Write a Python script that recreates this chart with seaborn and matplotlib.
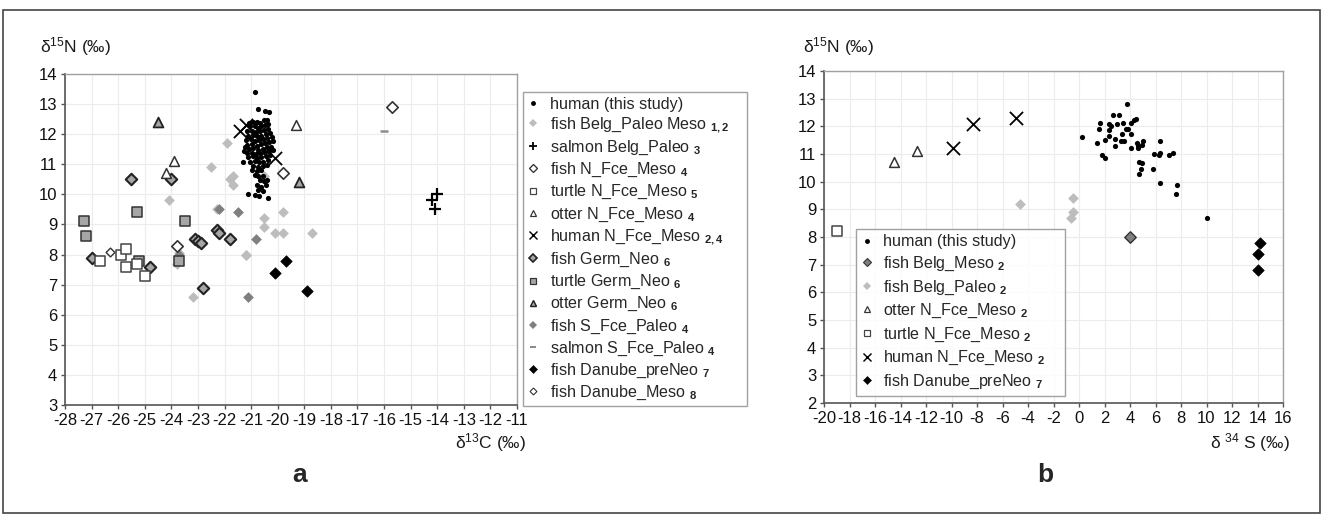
import matplotlib
matplotlib.use("Agg")
import matplotlib.pyplot as plt
import seaborn as sns
from matplotlib.lines import Line2D
from matplotlib.patches import Rectangle

sns.set_theme(style="white")
plt.rcParams['font.family'] = ['Liberation Sans', 'DejaVu Sans']
plt.rcParams['mathtext.fontset'] = 'custom'
plt.rcParams['mathtext.rm'] = 'Liberation Sans'
plt.rcParams['mathtext.bf'] = 'Liberation Sans:bold'
plt.rcParams['mathtext.it'] = 'Liberation Sans:italic'
plt.rcParams['axes.unicode_minus'] = False

# ---------------- panel a : d13C vs d15N ----------------
human_c = [-20.86, -20.73, -20.47, -20.32, -21.07, -20.92, -20.79, -20.67, -20.52, -20.42,
           -21.04, -20.86, -20.73, -20.61, -20.48, -20.36, -21.17, -20.98, -20.82, -20.67,
           -20.52, -20.38, -21.11, -20.92, -20.77, -20.61, -20.44, -20.29, -21.19, -21.02,
           -20.86, -20.69, -20.54, -20.39, -20.23, -21.14, -20.97, -20.79, -20.63, -20.48,
           -20.32, -20.17, -21.07, -20.92, -20.73, -20.57, -20.42, -20.27, -21.17, -20.98,
           -20.82, -20.67, -20.52, -20.36, -20.19, -21.11, -20.94, -20.77, -20.61, -20.44,
           -20.29, -21.04, -20.86, -20.69, -20.54, -20.38, -21.32, -20.92, -20.73, -20.57,
           -20.42, -20.98, -20.79, -20.64, -20.86, -20.73, -20.57, -20.67, -20.52, -20.79,
           -20.61, -20.44, -20.73, -20.54, -21.11, -20.86, -20.69, -20.36, -20.42, -20.29,
           -21.23, -21.27]
human_n = [13.40, 12.83, 12.76, 12.73, 12.37, 12.39, 12.42, 12.37, 12.46, 12.48,
           12.26, 12.28, 12.20, 12.26, 12.31, 12.35, 12.09, 12.12, 12.06, 12.09,
           12.15, 12.17, 11.95, 11.98, 11.93, 11.95, 12.00, 12.04, 11.81, 11.84,
           11.78, 11.81, 11.84, 11.87, 11.90, 11.65, 11.68, 11.62, 11.67, 11.70,
           11.73, 11.76, 11.50, 11.54, 11.48, 11.52, 11.56, 11.59, 11.37, 11.39,
           11.34, 11.37, 11.40, 11.43, 11.48, 11.24, 11.26, 11.21, 11.24, 11.28,
           11.32, 11.09, 11.12, 11.06, 11.09, 11.15, 11.09, 10.95, 10.91, 10.95,
           10.98, 10.82, 10.76, 10.80, 10.65, 10.60, 10.62, 10.48, 10.43, 10.32,
           10.26, 10.32, 10.15, 10.10, 10.01, 9.99, 9.93, 9.87, 10.48, 11.48,
           11.59, 11.43]

fish_belg_paleo_meso_c = [-21.9, -22.5, -21.8, -21.7, -21.7, -24.1, -22.3, -20.5, -20.5, -20.1,
                          -19.8, -19.8, -21.2, -20.5, -18.7, -23.2, -21.2, -23.8, -23.7]
fish_belg_paleo_meso_n = [11.7, 10.9, 10.5, 10.6, 10.3, 9.8, 9.5, 9.2, 8.9, 8.7,
                          8.7, 9.4, 8.0, 10.6, 8.7, 6.6, 8.0, 7.7, 8.05]

salmon_belg_paleo_c = [-14.0, -14.2, -14.1]
salmon_belg_paleo_n = [10.0, 9.8, 9.5]

fish_nfce_meso_c = [-19.8, -15.7, -23.8]
fish_nfce_meso_n = [10.7, 12.9, 8.3]

turtle_nfce_meso_c = [-26.7, -25.9, -25.7, -25.7, -25.3, -25.0]
turtle_nfce_meso_n = [7.8, 8.0, 8.2, 7.6, 7.7, 7.3]

otter_nfce_meso_c = [-23.9, -24.2, -19.3]
otter_nfce_meso_n = [11.1, 10.7, 12.3]

human_nfce_meso_c = [-21.4, -21.2, -20.1]
human_nfce_meso_n = [12.1, 12.3, 11.2]

fish_germ_neo_c = [-25.5, -24.0, -23.1, -23.0, -22.9, -22.3, -22.2, -21.8, -27.0, -24.8, -22.8]
fish_germ_neo_n = [10.5, 10.5, 8.5, 8.45, 8.4, 8.8, 8.7, 8.5, 7.9, 7.6, 6.9]

turtle_germ_neo_c = [-27.3, -27.2, -25.3, -23.5, -25.2, -23.7]
turtle_germ_neo_n = [9.1, 8.6, 9.4, 9.1, 7.8, 7.8]

otter_germ_neo_c = [-24.5, -19.2]
otter_germ_neo_n = [12.4, 10.4]

fish_sfce_paleo_c = [-22.2, -21.5, -20.8, -21.1, -23.7]
fish_sfce_paleo_n = [9.5, 9.4, 8.5, 6.6, 8.0]

salmon_sfce_paleo_c = [-16.0]
salmon_sfce_paleo_n = [12.1]

fish_danube_preneo_c = [-20.1, -19.7, -18.9]
fish_danube_preneo_n = [7.4, 7.8, 6.8]

fish_danube_meso_c = [-26.3]
fish_danube_meso_n = [8.1]

# ---------------- panel b : d34S vs d15N ----------------
human_s = [3.76, 2.64, 3.16, 1.61, 2.35, 1.53, 2.50, 2.38, 2.97, 3.45,
           4.10, 4.49, 4.30, 3.88, 3.70, 3.37, 4.07, 2.32, 2.06, 2.79,
           3.31, 3.55, 1.45, 2.84, 0.23, 4.54, 5.00, 4.93, 4.10, 4.62,
           4.60, 6.32, 5.90, 6.32, 6.30, 7.04, 7.35, 1.82, 2.00, 4.73,
           4.93, 4.88, 4.73, 5.77, 6.32, 7.68, 7.60, 10.07]
human_s_n = [12.82, 12.42, 12.42, 12.13, 12.10, 11.92, 12.00, 11.86, 12.07, 12.12,
             12.12, 12.25, 12.24, 11.92, 11.90, 11.74, 11.74, 11.64, 11.50, 11.54,
             11.47, 11.47, 11.38, 11.30, 11.62, 11.41, 11.47, 11.34, 11.22, 11.20,
             11.28, 11.47, 10.99, 11.04, 10.98, 10.98, 11.04, 10.95, 10.86, 10.71,
             10.67, 10.44, 10.27, 10.47, 9.95, 9.87, 9.57, 8.70]

fish_belg_meso_s = [4.0]
fish_belg_meso_n = [8.0]

fish_belg_paleo_s = [-4.6, -0.5, -0.5, -0.6]
fish_belg_paleo_n = [9.2, 9.4, 8.9, 8.7]

otter_nfce_s = [-14.5, -12.7]
otter_nfce_n = [10.7, 11.1]

turtle_nfce_s = [-19.0]
turtle_nfce_n = [8.2]

human_nfce_s = [-9.9, -8.3, -4.95]
human_nfce_n = [11.2, 12.1, 12.3]

fish_danube_s = [14.2, 14.0, 14.0]
fish_danube_n = [7.8, 7.4, 6.8]

# ---------------- marker styles ----------------
STYLES = {
    "human":      dict(marker="o", s=14, fc="black", ec="black", lw=0, ms=3.5),
    "lgray_d":    dict(marker="D", s=30, fc="#bdbdbd", ec="#bdbdbd", lw=0, ms=4.5),
    "plus":       dict(marker="+", s=70, fc="black", ec=None, lw=1.6, ms=6),
    "open_d":     dict(marker="D", s=34, fc="white", ec="#333333", lw=1.2, ms=4.5),
    "open_s":     dict(marker="s", s=50, fc="white", ec="#444444", lw=1.1, ms=5),
    "open_t":     dict(marker="^", s=50, fc="white", ec="#333333", lw=1.1, ms=5),
    "cross":      dict(marker="x", s=90, fc="black", ec=None, lw=1.3, ms=6),
    "gray_d":     dict(marker="D", s=34, fc="#a6a6a6", ec="#222222", lw=1.5, ms=4.5),
    "gray_s":     dict(marker="s", s=50, fc="#a6a6a6", ec="#333333", lw=1.1, ms=5),
    "gray_t":     dict(marker="^", s=50, fc="#a6a6a6", ec="#222222", lw=1.3, ms=5),
    "dgray_d":    dict(marker="D", s=30, fc="#7f7f7f", ec="#7f7f7f", lw=0, ms=4.5),
    "dash":       dict(marker="_", s=40, fc="#8c8c8c", ec=None, lw=1.8, ms=5),
    "black_d":    dict(marker="D", s=34, fc="black", ec="black", lw=0.5, ms=4.5),
    "small_od":   dict(marker="D", s=20, fc="white", ec="#333333", lw=1.0, ms=3.5),
    "mgray_d":    dict(marker="D", s=34, fc="#7f7f7f", ec="#333333", lw=1.0, ms=4.5),
}

TICK_FS = 12
LEG_FS = 11.6
LAB_FS = 12.5


def draw(ax, x, y, key):
    st = STYLES[key]
    kw = dict(x=x, y=y, ax=ax, marker=st["marker"], s=st["s"], legend=False,
              linewidth=st["lw"], zorder=3, color=st["fc"])
    if st["ec"] is not None:
        kw["edgecolor"] = st["ec"]
    sns.scatterplot(**kw)


def handle(key):
    st = STYLES[key]
    if st["ec"] is None:
        return Line2D([], [], ls="none", marker=st["marker"], ms=st["ms"],
                      color=st["fc"], mew=st["lw"] * 0.8)
    return Line2D([], [], ls="none", marker=st["marker"], ms=st["ms"],
                  markerfacecolor=st["fc"], markeredgecolor=st["ec"],
                  mew=max(st["lw"] * 0.8, 0.01))


def style_axes(ax):
    ax.grid(True, color="#ececec", lw=0.8)
    ax.set_axisbelow(True)
    for side in ("left", "bottom"):
        ax.spines[side].set_color("#555555")
        ax.spines[side].set_linewidth(1.2)
    for side in ("top", "right"):
        ax.spines[side].set_color("#a0a0a0")
        ax.spines[side].set_linewidth(1.0)
    ax.tick_params(bottom=True, left=True, direction="out", length=3, width=1,
                   color="#555555", labelsize=TICK_FS, labelcolor="#111111", pad=2.5)
    ax.set_xlabel("")
    ax.set_ylabel("")


W, H = 1323, 515
fig = plt.figure(figsize=(W / 100, H / 100), dpi=100)
fig.patches.append(Rectangle((3 / W, 2 / H), 1 - 6 / W, 1 - 12 / H, transform=fig.transFigure,
                             fill=False, ec="#444444", lw=1.2, zorder=0))

# panel a
ax1 = fig.add_axes([65 / W, 1 - 405 / H, 452 / W, 331 / H])
series_a = [
    (human_c, human_n, "human", "human (this study)"),
    (fish_belg_paleo_meso_c, fish_belg_paleo_meso_n, "lgray_d", r"fish Belg_Paleo Meso $\mathbf{_{1,2}}$"),
    (salmon_belg_paleo_c, salmon_belg_paleo_n, "plus", r"salmon Belg_Paleo $\mathbf{_{3}}$"),
    (fish_nfce_meso_c, fish_nfce_meso_n, "open_d", r"fish N_Fce_Meso $\mathbf{_{4}}$"),
    (turtle_nfce_meso_c, turtle_nfce_meso_n, "open_s", r"turtle N_Fce_Meso $\mathbf{_{5}}$"),
    (otter_nfce_meso_c, otter_nfce_meso_n, "open_t", r"otter N_Fce_Meso $\mathbf{_{4}}$"),
    (human_nfce_meso_c, human_nfce_meso_n, "cross", r"human N_Fce_Meso $\mathbf{_{2,4}}$"),
    (fish_germ_neo_c, fish_germ_neo_n, "gray_d", r"fish Germ_Neo $\mathbf{_{6}}$"),
    (turtle_germ_neo_c, turtle_germ_neo_n, "gray_s", r"turtle Germ_Neo $\mathbf{_{6}}$"),
    (otter_germ_neo_c, otter_germ_neo_n, "gray_t", r"otter Germ_Neo $\mathbf{_{6}}$"),
    (fish_sfce_paleo_c, fish_sfce_paleo_n, "dgray_d", r"fish S_Fce_Paleo $\mathbf{_{4}}$"),
    (salmon_sfce_paleo_c, salmon_sfce_paleo_n, "dash", r"salmon S_Fce_Paleo $\mathbf{_{4}}$"),
    (fish_danube_preneo_c, fish_danube_preneo_n, "black_d", r"fish Danube_preNeo $\mathbf{_{7}}$"),
    (fish_danube_meso_c, fish_danube_meso_n, "small_od", r"fish Danube_Meso $\mathbf{_{8}}$"),
]
draw_order_a = [1, 10, 7, 8, 9, 3, 4, 5, 13, 12, 2, 11, 0, 6]
for i in draw_order_a:
    x, y, key, _ = series_a[i]
    draw(ax1, x, y, key)
ax1.set_xlim(-28, -11)
ax1.set_ylim(3, 14)
ax1.set_xticks(range(-28, -10))
ax1.set_yticks(range(3, 15))
style_axes(ax1)
leg1 = fig.legend([handle(k) for _, _, k, _ in series_a], [l for _, _, _, l in series_a],
                  loc="upper left", bbox_to_anchor=(523 / W, 1 - 93 / H, 224 / W, 0.001),
                  mode="expand", bbox_transform=fig.transFigure, fontsize=LEG_FS,
                  frameon=True, fancybox=False, edgecolor="#8a8a8a", labelspacing=0.24,
                  handlelength=0.8, handletextpad=0.6, borderpad=0.25, borderaxespad=0)
leg1.get_frame().set_linewidth(1.0)

# panel b
ax2 = fig.add_axes([824 / W, 1 - 403 / H, 459 / W, 332 / H])
series_b = [
    (human_s, human_s_n, "human", "human (this study)"),
    (fish_belg_meso_s, fish_belg_meso_n, "mgray_d", r"fish Belg_Meso $\mathbf{_{2}}$"),
    (fish_belg_paleo_s, fish_belg_paleo_n, "lgray_d", r"fish Belg_Paleo $\mathbf{_{2}}$"),
    (otter_nfce_s, otter_nfce_n, "open_t", r"otter N_Fce_Meso $\mathbf{_{2}}$"),
    (turtle_nfce_s, turtle_nfce_n, "open_s", r"turtle N_Fce_Meso $\mathbf{_{2}}$"),
    (human_nfce_s, human_nfce_n, "cross", r"human N_Fce_Meso $\mathbf{_{2}}$"),
    (fish_danube_s, fish_danube_n, "black_d", r"fish Danube_preNeo $\mathbf{_{7}}$"),
]
for x, y, key, _ in series_b:
    draw(ax2, x, y, key)
ax2.set_xlim(-20, 16)
ax2.set_ylim(2, 14)
ax2.set_xticks(range(-20, 17, 2))
ax2.set_yticks(range(2, 15))
style_axes(ax2)
leg2 = fig.legend([handle(k) for _, _, k, _ in series_b], [l for _, _, _, l in series_b],
                  loc="upper left", bbox_to_anchor=(856 / W, 1 - 230 / H, 209 / W, 0.001),
                  mode="expand", bbox_transform=fig.transFigure, fontsize=LEG_FS,
                  frameon=True, fancybox=False, edgecolor="#8a8a8a", labelspacing=0.33,
                  handlelength=0.8, handletextpad=0.6, borderpad=0.3, borderaxespad=0)
leg2.get_frame().set_linewidth(1.0)

# axis titles and panel letters
fig.text(40 / W, 1 - 47 / H, r"δ$^{15}$N (‰)", fontsize=LAB_FS, va="center", ha="left", color="#1a1a1a")
fig.text(803 / W, 1 - 47 / H, r"δ$^{15}$N (‰)", fontsize=LAB_FS, va="center", ha="left", color="#1a1a1a")
fig.text(526 / W, 1 - 443 / H, r"δ$^{13}$C (‰)", fontsize=LAB_FS, va="center", ha="right", color="#1a1a1a")
fig.text(1290 / W, 1 - 443 / H, r"δ $^{34}$ S (‰)", fontsize=LAB_FS, va="center", ha="right", color="#1a1a1a")
fig.text(300 / W, 1 - 475 / H, "a", fontsize=19, fontweight="bold", ha="center", va="center")
fig.text(1045 / W, 1 - 475 / H, "b", fontsize=19, fontweight="bold", ha="center", va="center")

fig.savefig("out.png", dpi=100)
